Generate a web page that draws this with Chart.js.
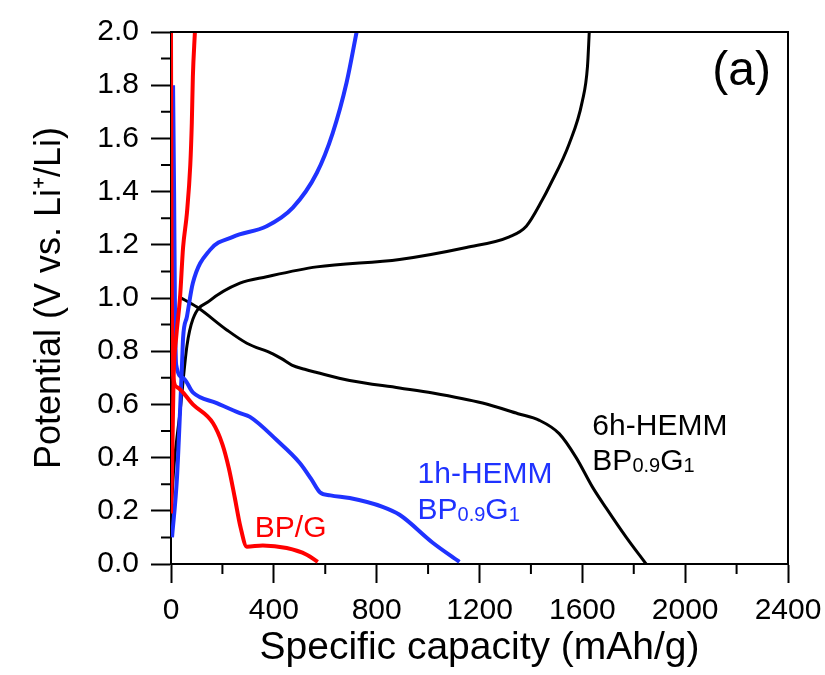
<!DOCTYPE html>
<html>
<head>
<meta charset="utf-8">
<script src="https://cdn.jsdelivr.net/npm/chart.js@4.4.1/dist/chart.umd.min.js"></script>
<style>
  html, body { margin: 0; padding: 0; background: #fff; }
</style>
</head>
<body>
<canvas id="chart" width="825" height="675"></canvas>
<script>
// Curves: capacity (mAh/g) vs potential (V)
const bpgDisX = [0, 2, 5, 23, 85, 163, 200, 225, 248, 270, 295, 357, 450, 528, 571];
const bpgDisY = [2.0, 1.2, 0.74, 0.665, 0.6, 0.53, 0.45, 0.36, 0.25, 0.14, 0.065, 0.07, 0.06, 0.035, 0.008];
const bpgChgX = [0, 5, 10, 20, 35, 47, 62, 75, 81, 85, 93];
const bpgChgY = [0.19, 0.4, 0.7, 0.85, 1.0, 1.19, 1.32, 1.5, 1.66, 1.83, 2.0];

const h1DisX = [8, 12, 15, 20, 47, 85, 178, 268, 307, 411, 501, 545, 579, 620, 695, 823, 889, 1018, 1122];
const h1DisY = [1.80, 1.4, 1.0, 0.75, 0.70, 0.645, 0.605, 0.567, 0.553, 0.466, 0.38, 0.32, 0.27, 0.258, 0.248, 0.215, 0.185, 0.08, 0.008];
const h1ChgX = [4, 23, 35, 43, 47, 62, 85, 151, 241, 372, 474, 567, 629, 683, 722];
const h1ChgY = [0.1, 0.32, 0.57, 0.755, 0.85, 0.93, 1.056, 1.18, 1.23, 1.27, 1.34, 1.47, 1.62, 1.81, 2.0];

const h6DisX = [30, 101, 217, 295, 396, 430, 470, 520, 567, 695, 889, 1018, 1212, 1350, 1433, 1510, 1576, 1639, 1693, 1771, 1848];
const h6DisY = [1.005, 0.966, 0.88, 0.83, 0.79, 0.772, 0.748, 0.732, 0.72, 0.69, 0.662, 0.643, 0.605, 0.565, 0.54, 0.49, 0.40, 0.29, 0.21, 0.10, 0.0];
const h6ChgX = [0, 10, 35, 62, 85, 151, 268, 372, 567, 889, 1149, 1316, 1382, 1445, 1472, 1549, 1600, 1620, 1627];
const h6ChgY = [0.18, 0.35, 0.57, 0.82, 0.92, 0.99, 1.056, 1.08, 1.117, 1.145, 1.19, 1.23, 1.27, 1.37, 1.42, 1.58, 1.74, 1.87, 2.0];

const xMinorTicks = [200, 600, 1000, 1400, 1800, 2200];
const yMinorTicks = [0.1, 0.3, 0.5, 0.7, 0.9, 1.1, 1.3, 1.5, 1.7, 1.9];

const RED = '#ff0000';
const BLUE = '#1f32ff';
const BLACK = '#000000';
const FONT = '"Liberation Sans", Arial, sans-serif';

function pts(xs, ys) {
  return xs.map((x, i) => ({ x, y: ys[i] }));
}

function curve(xs, ys, color, width) {
  return {
    data: pts(xs, ys),
    borderColor: color,
    borderWidth: width,
    pointRadius: 0,
    fill: false,
    cubicInterpolationMode: 'monotone'
  };
}

// Frame (top/right), minor ticks and in-plot labels
const frameAndLabels = {
  id: 'frameAndLabels',
  afterDraw(chart) {
    const { ctx, chartArea: a, scales: { x, y } } = chart;
    ctx.save();
    ctx.strokeStyle = '#000';
    ctx.lineWidth = 2;
    ctx.beginPath();
    ctx.moveTo(a.left, a.top);
    ctx.lineTo(a.right, a.top);
    ctx.lineTo(a.right, a.bottom);
    xMinorTicks.forEach(v => {
      const px = x.getPixelForValue(v);
      ctx.moveTo(px, a.bottom);
      ctx.lineTo(px, a.bottom + 10);
    });
    yMinorTicks.forEach(v => {
      const py = y.getPixelForValue(v);
      ctx.moveTo(a.left, py);
      ctx.lineTo(a.left - 10, py);
    });
    ctx.stroke();

    // text with small subscript-like parts
    function rich(parts, vx, vy, color) {
      let px = x.getPixelForValue(vx);
      const py = y.getPixelForValue(vy);
      ctx.fillStyle = color;
      ctx.textBaseline = 'alphabetic';
      ctx.textAlign = 'left';
      parts.forEach(([t, size, dy]) => {
        ctx.font = size + 'px ' + FONT;
        ctx.fillText(t, px, py + dy);
        px += ctx.measureText(t).width;
      });
    }
    const big = 30, small = 20;
    rich([['6h-HEMM', big, 0]], 1639, 0.485, BLACK);
    rich([['BP', big, 0], ['0.9', small, 2], ['G', big, 0], ['1', small, 2]], 1639, 0.353, BLACK);
    rich([['1h-HEMM', big, 0]], 959, 0.305, BLUE);
    rich([['BP', big, 0], ['0.9', small, 2], ['G', big, 0], ['1', small, 2]], 959, 0.169, BLUE);
    rich([['BP/G', big, 0]], 326, 0.10, RED);

    ctx.font = '48px ' + FONT;
    ctx.fillStyle = BLACK;
    ctx.textAlign = 'right';
    ctx.textBaseline = 'middle';
    ctx.fillText('(a)', x.getPixelForValue(2334), y.getPixelForValue(1.85));
    ctx.restore();
  }
};

new Chart(document.getElementById('chart'), {
  type: 'line',
  data: {
    datasets: [
      curve(bpgDisX, bpgDisY, RED, 4),
      curve(bpgChgX, bpgChgY, RED, 4),
      curve(h1DisX, h1DisY, BLUE, 4),
      curve(h1ChgX, h1ChgY, BLUE, 4),
      curve(h6DisX, h6DisY, BLACK, 3),
      curve(h6ChgX, h6ChgY, BLACK, 3)
    ]
  },
  plugins: [frameAndLabels],
  options: {
    responsive: false,
    animation: false,
    layout: { padding: { left: 0, right: 37, top: 32, bottom: 0 } },
    plugins: { legend: { display: false }, tooltip: { enabled: false } },
    scales: {
      x: {
        type: 'linear',
        min: 0,
        max: 2400,
        afterFit(scale) {
          scale.height = 111;
          scale.paddingLeft = 0;
          scale.paddingRight = 0;
        },
        ticks: { stepSize: 400, color: '#000', padding: 10, maxRotation: 0, font: { family: FONT, size: 30 }, callback: v => String(v) },
        grid: { drawOnChartArea: false, tickLength: 19, tickColor: '#000', tickWidth: 2 },
        border: { color: '#000', width: 2 },
        title: { display: true, text: 'Specific capacity (mAh/g)', color: '#000', padding: { bottom: 3 }, font: { family: FONT, size: 39 } }
      },
      y: {
        type: 'linear',
        min: 0,
        max: 2,
        afterFit(scale) {
          scale.width = 171;
          scale.paddingTop = 0;
          scale.paddingBottom = 0;
        },
        ticks: { stepSize: 0.2, color: '#000', padding: 12, font: { family: FONT, size: 30 }, callback: v => v.toFixed(1) },
        grid: { drawOnChartArea: false, tickLength: 20, tickColor: '#000', tickWidth: 2 },
        border: { color: '#000', width: 2 },
        title: { display: true, text: 'Potential (V vs. Li\u207A/Li)', color: '#000', padding: { top: 28 }, font: { family: FONT, size: 36 } }
      }
    }
  }
});
</script>
</body>
</html>
